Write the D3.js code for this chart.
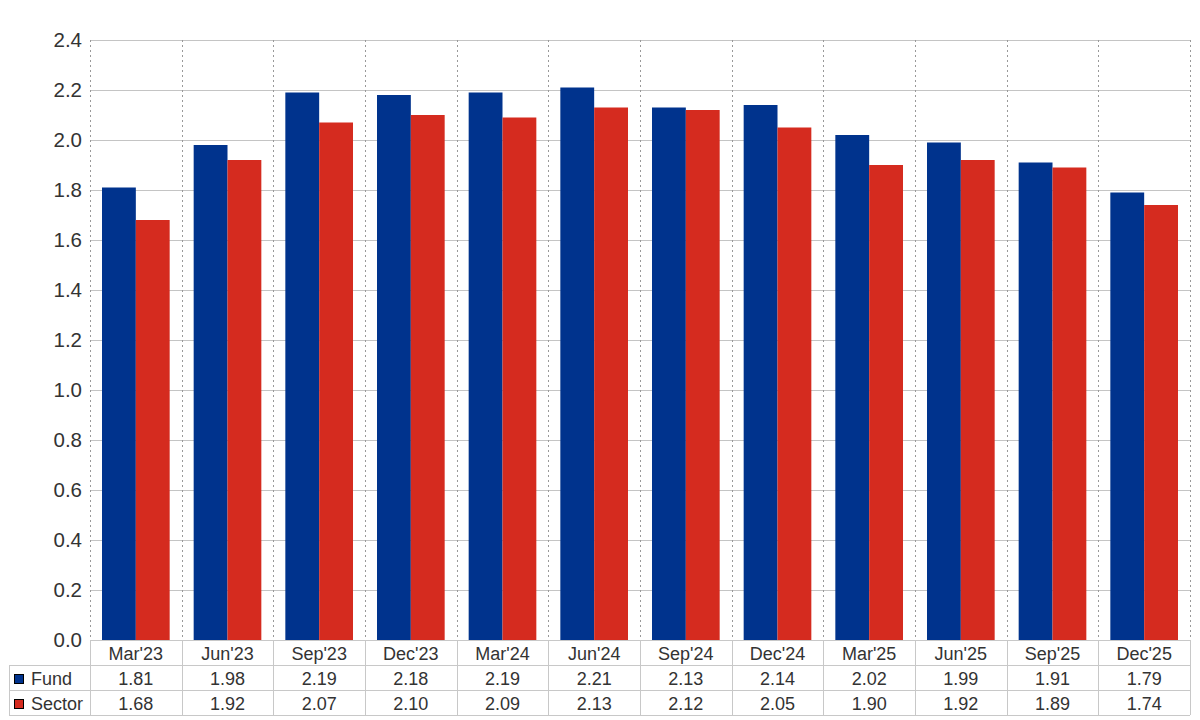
<!DOCTYPE html>
<html>
<head>
<meta charset="utf-8">
<script src="https://cdn.jsdelivr.net/npm/d3@7"></script>
<style>
  body { margin: 0; background: #fff; }
  svg { font-family: "Liberation Sans", Arial, sans-serif; }
  .grid line { stroke: #c4c4c4; }
  .vgrid { stroke: #999; stroke-dasharray: 2,3; }
  .cell { stroke: #c8c8c8; }
  text { fill: #333; }
</style>
</head>
<body>
<svg id="chart" width="1200" height="720"></svg>
<script>
var categories = ["Mar'23", "Jun'23", "Sep'23", "Dec'23", "Mar'24", "Jun'24", "Sep'24", "Dec'24", "Mar'25", "Jun'25", "Sep'25", "Dec'25"];
var fundValues = [1.81, 1.98, 2.19, 2.18, 2.19, 2.21, 2.13, 2.14, 2.02, 1.99, 1.91, 1.79];
var sectorValues = [1.68, 1.92, 2.07, 2.10, 2.09, 2.13, 2.12, 2.05, 1.90, 1.92, 1.89, 1.74];
var seriesNames = ["Fund", "Sector"];
var seriesColors = ["#00338d", "#d52b1f"];
var yTicks = [0, 0.2, 0.4, 0.6, 0.8, 1.0, 1.2, 1.4, 1.6, 1.8, 2.0, 2.2, 2.4];

var plotLeft = 90, plotRight = 1190, plotTop = 40, plotBottom = 640;
var tableLeft = 9, rowH = 25;

var svg = d3.select('#chart');

var x = d3.scaleBand().domain(categories).range([plotLeft, plotRight]);
var bw = x.bandwidth();
var xs = d3.scaleBand().domain(seriesNames).range([12, bw - 12]);
var y = d3.scaleLinear().domain([0, 2.4]).range([plotBottom, plotTop]);

// horizontal grid
svg.append("g").attr("class", "grid")
   .selectAll("line").data(yTicks).enter().append("line")
   .attr("x1", plotLeft).attr("x2", plotRight)
   .attr("y1", function(d) { return Math.round(y(d)) + 0.5; })
   .attr("y2", function(d) { return Math.round(y(d)) + 0.5; });

// vertical dotted dividers
var edges = categories.map(function(c) { return x(c); }).concat([plotRight]);
svg.append("g").selectAll("line").data(edges).enter().append("line")
   .attr("class", "vgrid")
   .attr("x1", function(d) { return Math.round(d) + 0.5; })
   .attr("x2", function(d) { return Math.round(d) + 0.5; })
   .attr("y1", plotTop).attr("y2", plotBottom);

// y labels
svg.append("g").selectAll("text").data(yTicks).enter().append("text")
   .attr("x", 82).attr("y", function(d) { return y(d); })
   .attr("dy", "0.35em")
   .attr("text-anchor", "end")
   .style("font-size", "20.5px")
   .text(function(d) { return d.toFixed(1); });

// bars
var data = categories.map(function(c, i) {
  return { cat: c, vals: [fundValues[i], sectorValues[i]] };
});
var groups = svg.append("g").selectAll("g").data(data).enter().append("g")
   .attr("transform", function(d) { return "translate(" + x(d.cat) + ",0)"; });
groups.selectAll("rect").data(function(d) { return d.vals.map(function(v, j) { return { s: seriesNames[j], v: v, j: j }; }); })
   .enter().append("rect")
   .attr("x", function(d) { return xs(d.s); })
   .attr("width", xs.bandwidth())
   .attr("y", function(d) { return y(d.v); })
   .attr("height", function(d) { return y(0) - y(d.v); })
   .attr("fill", function(d) { return seriesColors[d.j]; });

// table
var tbl = svg.append("g");
var rowsY = [plotBottom, plotBottom + rowH, plotBottom + 2 * rowH, plotBottom + 3 * rowH];
tbl.append("line").attr("class", "cell").attr("x1", plotLeft).attr("x2", plotRight).attr("y1", plotBottom + 0.5).attr("y2", plotBottom + 0.5);
[1, 2, 3].forEach(function(r) {
  tbl.append("line").attr("class", "cell")
     .attr("x1", tableLeft).attr("x2", plotRight)
     .attr("y1", rowsY[r] + 0.5).attr("y2", rowsY[r] + 0.5);
});
tbl.append("line").attr("class", "cell")
   .attr("x1", tableLeft + 0.5).attr("x2", tableLeft + 0.5)
   .attr("y1", rowsY[1]).attr("y2", rowsY[3]);
edges.forEach(function(e) {
  tbl.append("line").attr("class", "cell")
     .attr("x1", Math.round(e) + 0.5).attr("x2", Math.round(e) + 0.5)
     .attr("y1", plotBottom).attr("y2", rowsY[3]);
});
// category labels
tbl.selectAll("text.cat").data(categories).enter().append("text")
   .attr("class", "cat")
   .attr("x", function(d) { return x(d) + bw / 2; })
   .attr("y", plotBottom + rowH / 2 + 1)
   .attr("dy", "0.35em")
   .attr("text-anchor", "middle")
   .style("font-size", "18px")
   .text(function(d) { return d; });
// value rows
[fundValues, sectorValues].forEach(function(vals, j) {
  var cy = rowsY[j + 1] + rowH / 2 + 1;
  tbl.append("rect")
     .attr("x", 14.5).attr("y", Math.round(cy - 5) + 0.5)
     .attr("width", 9).attr("height", 9)
     .attr("fill", seriesColors[j]).attr("stroke", "#000").attr("stroke-width", 1);
  tbl.append("text")
     .attr("x", 31).attr("y", cy).attr("dy", "0.35em")
     .style("font-size", "18px")
     .text(seriesNames[j]);
  tbl.selectAll("text.v" + j).data(vals).enter().append("text")
     .attr("class", "v" + j)
     .attr("x", function(d, i) { return x(categories[i]) + bw / 2; })
     .attr("y", cy).attr("dy", "0.35em")
     .attr("text-anchor", "middle")
     .style("font-size", "18px")
     .text(function(d) { return d.toFixed(2); });
});
</script>
</body>
</html>
